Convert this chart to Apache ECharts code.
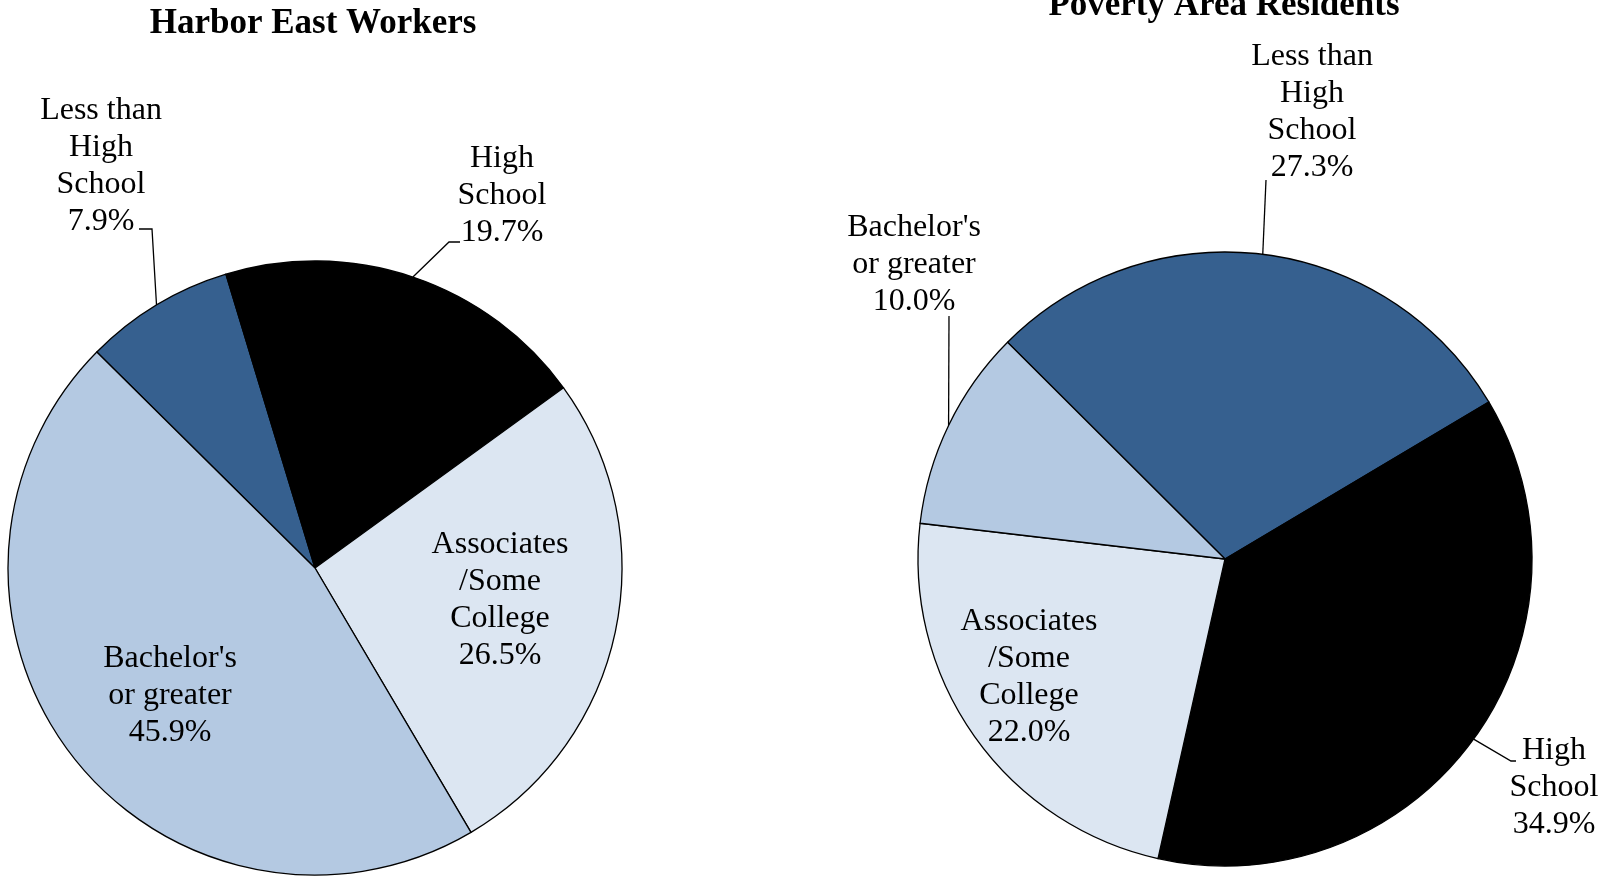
<!DOCTYPE html>
<html>
<head>
<meta charset="utf-8">
<script src="https://cdn.jsdelivr.net/npm/echarts@6/dist/echarts.min.js"></script>
<style>
  html,body{margin:0;padding:0;background:#fff;}
  #chart{width:1612px;height:880px;}
</style>
</head>
<body>
<div id="chart"></div>
<script>
// categories (same order for both pies, clockwise)
var levels = ['Less than\nHigh\nSchool', 'High\nSchool', 'Associates\n/Some\nCollege', "Bachelor's\nor greater"];
// percent values
var harborEast = [7.9, 19.7, 26.5, 45.9];
var povertyArea = [27.3, 34.9, 22.0, 10.0];
var titles = ['Harbor East Workers', 'Poverty Area Residents'];

var sliceColors = ['#36608F', '#000000', '#DCE6F2', '#B4C9E2'];
var serif = 'Liberation Serif, Times New Roman, serif';

//标签位置 (label centre + leader line elbow/end), per pie
var labelSpots = [
    [
        {c: [101, 166], line: [[152, 229], [139, 229]]},
        {c: [502, 196], line: [[449, 242], [460, 242]]},
        {c: [500, 600]},
        {c: [170, 696]}
    ],
    [
        {c: [1312, 112], line: [[1266, 180]]},
        {c: [1554, 788], line: [[1511, 761], [1516, 761]]},
        {c: [1029, 677]},
        {c: [914, 265], line: [[949, 316]]}
    ]
];

function buildData(values) {
    var arr = [];
    for (var i = 0; i < values.length; i++) {
        var outside = i === 0 || i === 1 || (values === povertyArea && i === 3);
        arr.push({
            name: levels[i],
            value: values[i],
            itemStyle: {color: sliceColors[i]},
            label: {position: outside ? 'outside' : 'inside'},
            labelLine: {show: outside}
        });
    }
    return arr;
}

function makeLayout(seriesIdx) {
    return function (params) {
        var spot = labelSpots[seriesIdx][params.dataIndex];
        var res = {x: spot.c[0], y: spot.c[1], align: 'center', verticalAlign: 'middle'};
        if (spot.line && params.labelLinePoints) {
            res.labelLinePoints = [params.labelLinePoints[0]].concat(spot.line);
        }
        return res;
    };
}

function pieSeries(values, center, startAngle, idx) {
    return {
        type: 'pie',
        center: center,
        radius: 307,
        startAngle: startAngle,
        clockwise: true,
        animation: false,
        avoidLabelOverlap: false,
        itemStyle: {borderColor: '#000', borderWidth: 1.3},
        emphasis: {disabled: true},
        label: {
            show: true,
            color: '#000',
            fontFamily: serif,
            fontSize: 32,
            lineHeight: 37,
            align: 'center',
            formatter: function (p) {
                return p.name + '\n' + p.value.toFixed(1) + '%';
            }
        },
        labelLine: {lineStyle: {color: '#000', width: 1.3}},
        labelLayout: makeLayout(idx),
        data: buildData(values)
    };
}

var chart = echarts.init(document.getElementById('chart'));
var option = {
    backgroundColor: '#fff',
    title: [
        {
            text: titles[0], left: 313, top: 6, padding: 0, textAlign: 'center',
            textStyle: {fontFamily: serif, fontWeight: 'bold', fontSize: 35, color: '#000'}
        },
        {
            text: titles[1], left: 1224, top: -12, padding: 0, textAlign: 'center',
            textStyle: {fontFamily: serif, fontWeight: 'bold', fontSize: 35, color: '#000'}
        }
    ],
    series: [
        pieSeries(harborEast, [315, 568], 135.3, 0),
        pieSeries(povertyArea, [1225, 559], 135.1, 1)
    ]
};
chart.setOption(option);
</script>
</body>
</html>
